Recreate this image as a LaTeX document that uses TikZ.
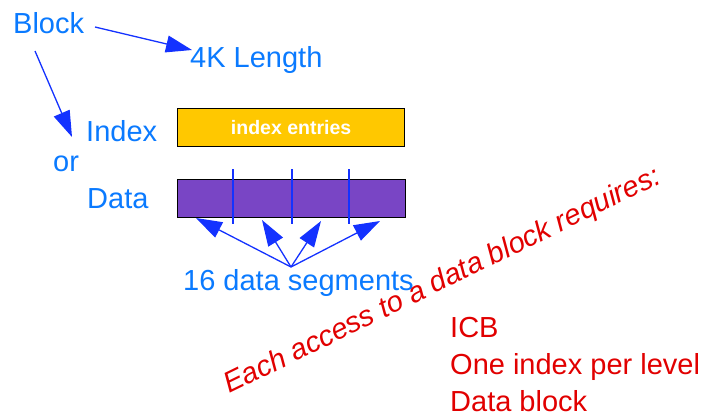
\documentclass[tikz,border=0pt]{standalone}
\usepackage{fontspec}
\setmainfont{Liberation Sans}
\usetikzlibrary{arrows.meta}
\definecolor{lblblue}{RGB}{10,122,255}
\definecolor{arrblue}{RGB}{20,50,255}
\definecolor{idxfill}{RGB}{255,200,0}
\definecolor{datafill}{RGB}{121,69,197}
\definecolor{notered}{RGB}{225,0,0}

\begin{document}
\begin{tikzpicture}[x=1pt,y=-1pt,
  lbl/.style={inner sep=0pt, anchor=base west, text=lblblue,
              font=\fontsize{29}{34}\selectfont},
  note/.style={inner sep=0pt, anchor=base west, text=notered,
               font=\fontsize{29}{34}\selectfont},
  ptr/.style={draw=arrblue, line width=1.3pt,
              -{Triangle[length=26pt,width=17pt]}},
  divider/.style={draw=arrblue, line width=1.5pt},
  blockbox/.style={draw=black, line width=1.2pt, inner sep=0pt,
                   anchor=north west, minimum height=38pt}]
\useasboundingbox (0,0) rectangle (709,418);

% labels on the left
\node[lbl] (block) at (13,33) {Block};
\node[lbl] (len)   at (190,67) {4K Length};
\node[lbl] (idx)   at (86,141) {Index};
\node[lbl] (or)    at (53,171) {or};
\node[lbl] (data)  at (87,208) {Data};

% arrows out of "Block"
\coordinate (blockR) at (95,27);
\coordinate (lenL)   at (192,50);
\coordinate (blockB) at (35,51);
\coordinate (idxL)   at (72,137);
\draw[ptr] (blockR) -- (lenL);
\draw[ptr] (blockB) -- (idxL);

% index block and data block
\node[blockbox, fill=idxfill, minimum width=227pt, text=white,
      font=\fontsize{19.5}{23}\selectfont\bfseries] (ibox) at (177,108)
      {\raisebox{-2pt}{index entries}};
\node[blockbox, fill=datafill, minimum width=228pt] (dbox) at (177,179) {};

% segment dividers
\draw[divider] (233,169) -- (233,224);
\draw[divider] (292,169) -- (292,224);
\draw[divider] (349,169) -- (349,224);

% data segments
\node[lbl] (segs) at (183,290) {16 data segments};
\coordinate (fan)  at (291,267);
\coordinate (seg1) at (196,218);
\coordinate (seg2) at (262,220);
\coordinate (seg3) at (321,221);
\coordinate (seg4) at (380,221);
\draw[ptr] (fan) -- (seg1);
\draw[ptr] (fan) -- (seg2);
\draw[ptr] (fan) -- (seg3);
\draw[ptr] (fan) -- (seg4);

% access requirements
\node[note, rotate=26, font=\fontsize{29}{34}\selectfont\itshape]
      (req) at (229,394) {Each access to a data block requires:};
\node[note] (icb)   at (450,337) {ICB};
\node[note] (level) at (450,374) {One index per level};
\node[note] (dblk)  at (450,411) {Data block};
\end{tikzpicture}
\end{document}
